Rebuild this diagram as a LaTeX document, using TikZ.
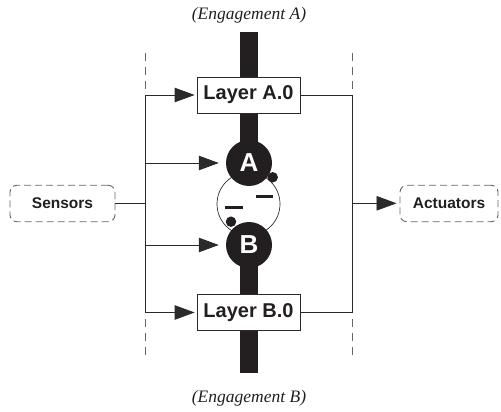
\documentclass[tikz,border=0pt]{standalone}
\usepackage{fontspec}
\setmainfont{Liberation Sans}
\newfontfamily\engfont{Liberation Serif}
\usetikzlibrary{arrows.meta}
\definecolor{ink}{HTML}{231F20}
\definecolor{lineg}{HTML}{2A2A2A}
\definecolor{dashg}{HTML}{666666}
\tikzset{
  layerbox/.style={draw=lineg, line width=0.8pt, fill=white, minimum width=103pt, minimum height=36pt, inner sep=0pt, font=\bfseries\fontsize{20}{24}\selectfont, text=ink},
  iobox/.style={draw=dashg, line width=0.9pt, dash pattern=on 7pt off 4pt, rounded corners=7pt, minimum height=36.5pt, inner sep=0pt, font=\bfseries\fontsize{15.5}{18}\selectfont, text=ink},
  engbox/.style={circle, fill=ink, minimum size=46pt, inner sep=0pt, text=white, font=\bfseries\fontsize{26}{30}\selectfont},
  dotnode/.style={circle, fill=ink, minimum size=10.5pt, inner sep=0pt},
  conn/.style={draw=lineg, line width=0.8pt},
  arr/.style={conn, -{Triangle[length=20pt,width=14.5pt]}},
  guide/.style={draw=dashg, line width=0.9pt, dash pattern=on 8pt off 6pt},
  englabel/.style={font=\engfont\itshape\fontsize{17.5}{20}\selectfont, text=ink}
}
\begin{document}
\begin{tikzpicture}[x=1pt,y=-1pt]
\useasboundingbox (0,0) rectangle (501,412);
% guides
\draw[guide] (145,53) -- (145,355);
\draw[guide] (352.7,53) -- (352.7,355);
% bar
\fill[ink] (240,32) rectangle (258,373);
% ring
\node[circle, draw=lineg, fill=white, line width=0.7pt, minimum size=63pt, inner sep=0pt] (ring) at (248.5,204) {};
\draw[ink, line width=3pt] (256,196) -- (272.7,196);
\draw[ink, line width=3pt] (225,207.5) -- (242.5,207.5);
% nodes
\node[layerbox] (layerA) at (248.5,95) {Layer A.0};
\node[layerbox] (layerB) at (248.5,312.5) {Layer B.0};
\node[engbox] (circA) at (249,163) {A};
\node[engbox] (circB) at (249,245) {B};
\node[dotnode] (dotA) at (272.7,177.3) {};
\node[dotnode] (dotB) at (231,221.7) {};
\node[iobox, minimum width=105pt] (sensors) at (62.5,203.5) {Sensors};
\node[iobox, minimum width=98pt] (actuators) at (449,203.5) {Actuators};
\node[englabel] (engA) at (249,15) {(Engagement A)};
\node[englabel] (engB) at (249,398) {(Engagement B)};
% coordinates
\coordinate (lt) at (145,95);
\coordinate (lb) at (145,312.5);
\coordinate (la) at (145,163);
\coordinate (lbb) at (145,245);
\coordinate (ls) at (145,203.3);
\coordinate (rt) at (352.7,95);
\coordinate (rb) at (352.7,312.5);
\coordinate (rs) at (352.7,203.3);
% connectors
\draw[conn] (sensors.east |- ls) -- (ls);
\draw[conn] (lt) -- (lb);
\draw[arr, shorten >=2pt] (lt) -- (layerA.west);
\draw[arr, shorten >=2pt] (lb) -- (layerB.west);
\draw[arr, shorten >=7pt] (la) -- (circA.west);
\draw[arr, shorten >=7pt] (lbb) -- (circB.west);
\draw[conn] (layerA.east) -- (rt) -- (rb) -- (layerB.east);
\draw[arr, shorten >=3pt] (rs) -- (actuators.west |- rs);
\end{tikzpicture}
\end{document}
